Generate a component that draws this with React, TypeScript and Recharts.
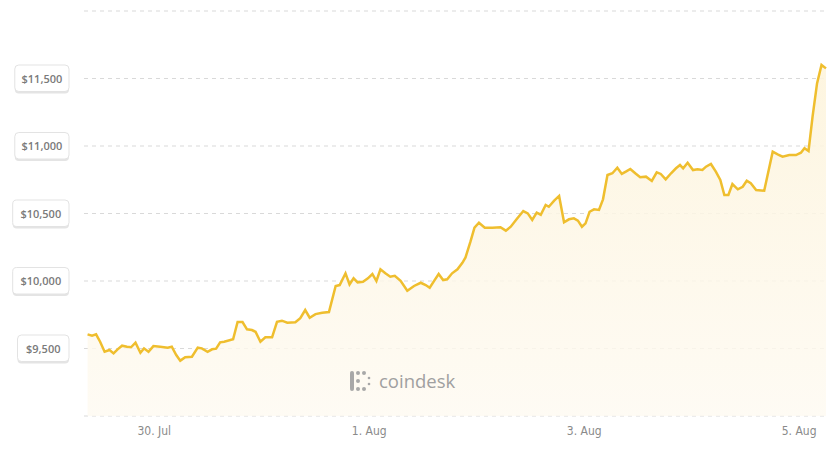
import { AreaChart, Area, XAxis, YAxis, CartesianGrid } from "recharts";

// hours counted from 29 Jul 00:00
const hours = [
  9.1, 10.1, 11, 11.9, 12.9, 14, 14.9, 15.8, 16.8, 17.9,
  18.8, 19.8, 20.9, 21.7, 22.7, 23.8, 25.3, 27, 27.9, 28.9,
  29.8, 30.9, 32.4, 33.7, 34.6, 35.9, 36.9, 37.8, 38.7, 39.6,
  41.6, 42.6, 43.7, 44.7, 45.8, 46.6, 47.7, 48.8, 50.3, 51.4,
  52.5, 53.7, 55.5, 56.6, 57.7, 58.7, 60, 61.5, 63, 64.5,
  65.4, 66.7, 67.6, 68.5, 69.4, 70.6, 71.7, 72.7, 73.6, 74.5,
  75.6, 76.7, 77.7, 79, 80.5, 82, 83.5, 84.6, 85.5, 86.6,
  87.5, 88.5, 89.4, 90.5, 91.7, 92.8, 93.5, 94.6, 95.5, 96.5,
  97.8, 99.5, 101.3, 102.5, 103.6, 104.9, 106.4, 107.4, 108.4, 109.4,
  110.3, 111.4, 112.1, 113.3, 114.4, 115.5, 116.6, 117.7, 118.6, 119.5,
  120.3, 121.2, 122.2, 123.3, 124.2, 125.2, 126.3, 127.4, 128.4, 129.3,
  130.3, 131.4, 132.5, 133.8, 135.1, 136.2, 137.1, 138.2, 139.4, 140.5,
  141.4, 142.1, 143.1, 144.3, 145.3, 146.4, 147.2, 148.3, 149.4, 150.4,
  151.3, 152.2, 153.1, 154.3, 155.4, 156.3, 157.2, 158.4, 160.2, 162.1,
  163.2, 164.3, 165.8, 167.3, 168.4, 169.2, 170.1, 171, 172, 173, 174,
];

const prices = [
  9605, 9595, 9605, 9550, 9476, 9489, 9464, 9494, 9521, 9513,
  9509, 9543, 9469, 9501, 9476, 9518, 9513, 9506, 9513, 9452,
  9410, 9435, 9439, 9506, 9501, 9476, 9494, 9499, 9546, 9550,
  9568, 9696, 9696, 9642, 9637, 9624, 9550, 9583, 9583, 9698,
  9706, 9691, 9694, 9724, 9785, 9728, 9755, 9765, 9770, 9963,
  9970, 10057, 9975, 10020, 9990, 9995, 10020, 10052, 10000, 10087,
  10057, 10032, 10039, 10002, 9928, 9963, 9987, 9970, 9950, 10007,
  10052, 10007, 10013, 10057, 10087, 10135, 10175, 10291, 10395, 10432,
  10395, 10395, 10398, 10373, 10402, 10457, 10518, 10501, 10452, 10506,
  10491, 10563, 10550, 10595, 10630, 10435, 10457, 10464, 10447, 10402,
  10427, 10513, 10531, 10526, 10605, 10785, 10798, 10839, 10793, 10810,
  10830, 10798, 10768, 10773, 10741, 10805, 10793, 10753, 10798, 10835,
  10859, 10835, 10876, 10822, 10827, 10822, 10847, 10867, 10810, 10748,
  10637, 10637, 10718, 10679, 10698, 10743, 10724, 10674, 10669, 10958,
  10938, 10921, 10933, 10933, 10950, 10983, 10963, 11217, 11464, 11600, 11575,
];

const xTicks = [24, 72, 120, 168];
const xLabels = ["30. Jul", "1. Aug", "3. Aug", "5. Aug"];
const yTicks = [9000, 9500, 10000, 10500, 11000, 11500, 12000];
const yLabelled = [9500, 10000, 10500, 11000, 11500];

const data = hours.map((t, i) => ({ t, price: prices[i] }));

const fmt = (v: number) => "$" + v.toLocaleString("en-US");

const textWidth = (s: string) => {
  let w = 0;
  for (const ch of s) {
    if (ch === "1") w += 4.8;
    else if (ch === ",") w += 3;
    else w += 6.9;
  }
  return w;
};

const PriceTick = (props: any) => {
  const { y, payload } = props;
  if (!yLabelled.includes(payload.value)) return null;
  const label = fmt(payload.value);
  const w = textWidth(label) + 14;
  const right = 69;
  return (
    <g>
      <rect x={right - w} y={y - 12} width={w} height={27} rx={4} fill="#e4e4e4" />
      <rect x={right - w} y={y - 13.5} width={w} height={26.5} rx={4} fill="#fff" stroke="#e3e3e3" />
      <text
        x={right - w / 2}
        y={y + 4}
        textAnchor="middle"
        fontSize={11}
        fontWeight={600}
        fill="#7a7a7a"
        fontFamily="'Open Sans', sans-serif"
      >
        {label}
      </text>
    </g>
  );
};

const DateTick = (props: any) => {
  const { x, y, payload } = props;
  const idx = xTicks.indexOf(payload.value);
  return (
    <text
      x={x}
      y={y + 11}
      textAnchor="middle"
      fontSize={12}
      fill="#8a8a8a"
      fontFamily="'Liberation Sans Narrow', 'DejaVu Sans Condensed', Roboto, sans-serif"
    >
      {xLabels[idx]}
    </text>
  );
};

export default function App() {
  return (
    <div style={{ position: "absolute", left: 0, top: 0, width: 830, height: 452, background: "#fff" }}>
      <AreaChart width={830} height={452} data={data} margin={{ top: 11, right: 4, bottom: 6, left: 0 }}>
        <defs>
          <linearGradient id="fillGold" x1="0" y1="0" x2="0" y2="1">
            <stop offset="0%" stopColor="#fdf4dc" stopOpacity={0.9} />
            <stop offset="100%" stopColor="#fefaf1" stopOpacity={0.8} />
          </linearGradient>
        </defs>
        <CartesianGrid vertical={false} stroke="#d9d9d9" strokeDasharray="4 4" />
        <XAxis
          dataKey="t"
          type="number"
          domain={[8.3, 174]}
          ticks={xTicks}
          height={30}
          axisLine={false}
          tickLine={false}
          tick={<DateTick />}
        />
        <YAxis
          type="number"
          domain={[9000, 12000]}
          ticks={yTicks}
          width={84}
          axisLine={false}
          tickLine={false}
          tick={<PriceTick />}
          interval={0}
        />
        <Area
          type="linear"
          dataKey="price"
          stroke="#efbe2e"
          strokeWidth={2.5}
          fill="url(#fillGold)"
          fillOpacity={1}
          isAnimationActive={false}
          dot={false}
          activeDot={false}
        />
      </AreaChart>
      <div
        style={{
          position: "absolute",
          left: 349,
          top: 368,
          display: "flex",
          alignItems: "center",
          color: "#a0a0a0",
          fontFamily: "'Open Sans', sans-serif",
          fontSize: 18.5,
        }}
      >
        <svg width={24} height={22} viewBox="0 0 24 22" style={{ marginRight: 6 }}>
          <g fill="#a8a8a8">
            <circle cx={3} cy={3} r={2} />
            <circle cx={9} cy={3} r={2} />
            <circle cx={15} cy={3} r={2} />
            <rect x={1} y={3} width={4} height={16} rx={1} />
            <circle cx={9} cy={11} r={2} />
            <circle cx={3} cy={19} r={2} />
            <circle cx={9} cy={19} r={2} />
            <circle cx={15} cy={19} r={2} />
            <circle cx={20} cy={8} r={1.3} />
            <circle cx={20} cy={14} r={1.3} />
          </g>
        </svg>
        <span>coindesk</span>
      </div>
    </div>
  );
}
